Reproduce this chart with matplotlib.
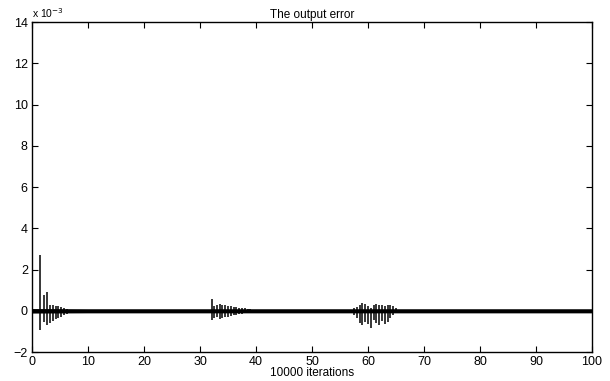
import numpy as np
import matplotlib
matplotlib.use("Agg")
import matplotlib.pyplot as plt

plt.rcParams['font.family'] = ['Liberation Sans', 'DejaVu Sans']

# error values in units of 1e-3, x in units of 10000 iterations
# burst 1 (start of training)
b1_x = [1.5, 2.1, 2.7, 3.2, 3.7, 4.2, 4.7, 5.2, 5.7, 6.2]
b1_up = [2.7, 0.75, 0.9, 0.3, 0.3, 0.25, 0.25, 0.2, 0.15, 0.1]
b1_dn = [-0.95, -0.55, -0.7, -0.6, -0.5, -0.4, -0.35, -0.3, -0.2, -0.15]

# burst 2 (around 32)
b2_x = [32.1, 32.5, 33.0, 33.5, 34.0, 34.5, 35.0, 35.5, 36.0, 36.5, 37.0, 37.5, 38.0, 38.5, 39.0]
b2_up = [0.55, 0.25, 0.3, 0.35, 0.3, 0.3, 0.25, 0.25, 0.2, 0.2, 0.15, 0.15, 0.15, 0.1, 0.1]
b2_dn = [-0.45, -0.35, -0.3, -0.4, -0.35, -0.3, -0.3, -0.25, -0.2, -0.2, -0.15, -0.15, -0.1, -0.1, -0.1]

# burst 3 (around 58-65)
b3_x = [57.5, 58.0, 58.5, 59.0, 59.5, 60.0, 60.5, 61.0, 61.5, 62.0, 62.5, 63.0, 63.5, 64.0, 64.5, 65.0]
b3_up = [0.15, 0.2, 0.3, 0.4, 0.35, 0.25, 0.15, 0.3, 0.35, 0.3, 0.3, 0.25, 0.3, 0.3, 0.25, 0.15]
b3_dn = [-0.2, -0.35, -0.6, -0.7, -0.55, -0.65, -0.85, -0.45, -0.6, -0.7, -0.5, -0.65, -0.55, -0.35, -0.2, -0.1]

# half-width of the noise band along the run
band_x = [0, 10, 20, 30, 40, 50, 60, 70, 80, 90, 100]
band_w = [0.11, 0.1, 0.1, 0.1, 0.1, 0.1, 0.1, 0.1, 0.1, 0.1, 0.1]

fig = plt.figure(figsize=(6.1, 3.81), dpi=100)
ax = fig.add_axes([0.0525, 0.076, 0.918, 0.866])

bx = np.array(band_x)
bw = np.array(band_w)
ax.fill_between(bx, -bw, bw, color='black', lw=0)

for xs, up, dn in [(b1_x, b1_up, b1_dn), (b2_x, b2_up, b2_dn), (b3_x, b3_up, b3_dn)]:
    ax.vlines(xs, dn, up, color='black', lw=1.1)

ax.set_xlim(0, 100)
ax.set_ylim(-2, 14)
ax.set_xticks(range(0, 101, 10))
ax.set_yticks(range(-2, 15, 2))
ax.tick_params(direction='in', top=True, right=True, length=4, width=0.8, labelsize=9, pad=3)
for s in ax.spines.values():
    s.set_linewidth(1.0)

ax.set_title('The output error', fontsize=8.5, pad=3)
ax.set_xlabel('10000 iterations', fontsize=8.5, labelpad=-1)
ax.text(0.0, 1.005, r'x 10$^{-3}$', transform=ax.transAxes, fontsize=7.5, ha='left', va='bottom')

fig.savefig('out.png', dpi=100)
